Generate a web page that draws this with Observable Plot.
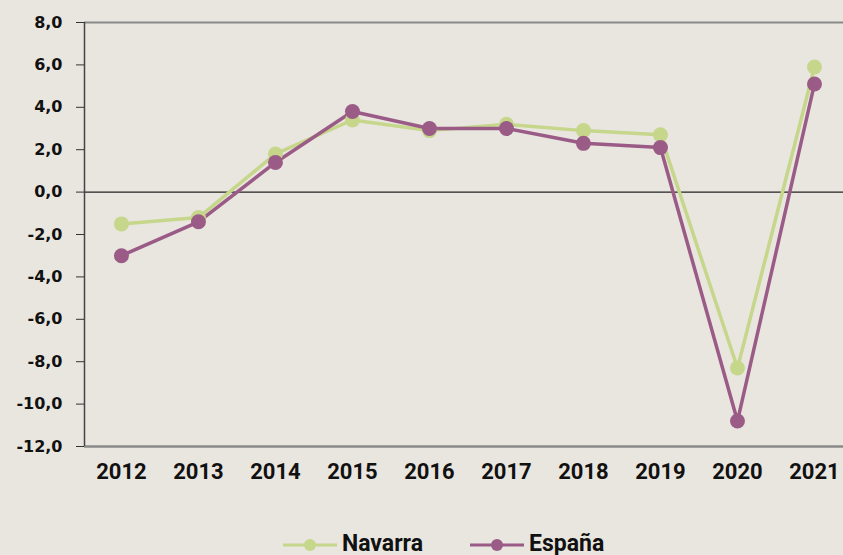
<!DOCTYPE html>
<html><head><meta charset="utf-8">
<script src="https://cdn.jsdelivr.net/npm/d3@7"></script>
<script src="https://cdn.jsdelivr.net/npm/@observablehq/plot@0.6"></script>
<style>
html,body{margin:0;padding:0;background:#e9e6e0;}
#wrap{position:relative;width:843px;height:555px;background:#e9e6e0;overflow:hidden;}
#legend{position:absolute;left:0;top:525px;width:843px;height:30px;}
</style></head>
<body><div id="wrap"><div id="chart"></div><div id="legend"></div></div>
<script>
const years = [2012,2013,2014,2015,2016,2017,2018,2019,2020,2021];
const navarra = [-1.5,-1.2,1.8,3.4,2.9,3.2,2.9,2.7,-8.3,5.9];
const espana = [-3.0,-1.4,1.4,3.8,3.0,3.0,2.3,2.1,-10.8,5.1];
const seriesNames = ["Navarra","España"];
const seriesColors = ["#c6d68b","#9a5b86"];
const yTicks = [-12,-10,-8,-6,-4,-2,0,2,4,6,8];

const data = [];
years.forEach((y,i)=>{ data.push({year:y, value:navarra[i], s:"Navarra"}); });
years.forEach((y,i)=>{ data.push({year:y, value:espana[i], s:"España"}); });

const fmt = v => v.toFixed(1).replace(".",",");

const chart = Plot.plot({
  width: 843, height: 520,
  marginLeft: 84, marginRight: 0, marginTop: 22, marginBottom: 74,
  style: {background: "transparent", fontFamily: "Roboto, sans-serif", fontSize: "16px", fontWeight: 700, color: "#111"},
  x: {domain: [2011.52, 2021.377], axis: null},
  y: {domain: [-12, 8], axis: null},
  color: {domain: seriesNames, range: seriesColors},
  marks: [
    Plot.ruleY([8], {stroke: "#8a8a8a", strokeWidth: 2}),
    Plot.ruleY([-12], {stroke: "#8a8a8a", strokeWidth: 2.5}),
    Plot.ruleY([0], {stroke: "#222", strokeWidth: 1.2}),
    Plot.ruleX([2011.52], {stroke: "#444", strokeWidth: 1.5}),
    Plot.axisY(yTicks, {tickSize: 8, tickPadding: 14, tickFormat: fmt, stroke: "#333", fill: "#111", fontFamily: "'DejaVu Sans', sans-serif", fontWeight: 700, fontSize: 16, label: null}),
    Plot.axisX(years, {tickSize: 0, tickPadding: 17, tickFormat: d => String(d), fill: "#111", fontFamily: "Roboto, sans-serif", fontWeight: 700, fontSize: 22, label: null}),
    Plot.line(data, {x: "year", y: "value", z: "s", stroke: "s", strokeWidth: 3.5}),
    Plot.dot(data, {x: "year", y: "value", fill: "s", r: 7.5})
  ]
});
document.getElementById("chart").appendChild(chart);

const lx = [283, 470];
let svg = `<svg width="843" height="30" xmlns="http://www.w3.org/2000/svg" style="font-family:Roboto,sans-serif;font-weight:700;font-size:23px">`;
seriesNames.forEach((n,i)=>{
  const x = lx[i];
  svg += `<line x1="${x}" x2="${x+54}" y1="20" y2="20" stroke="${seriesColors[i]}" stroke-width="3"/>`;
  svg += `<circle cx="${x+27}" cy="20" r="6" fill="${seriesColors[i]}"/>`;
  svg += `<text x="${x+59}" y="25.5" fill="#111">${n}</text>`;
});
svg += `</svg>`;
document.getElementById("legend").innerHTML = svg;
</script></body></html>
